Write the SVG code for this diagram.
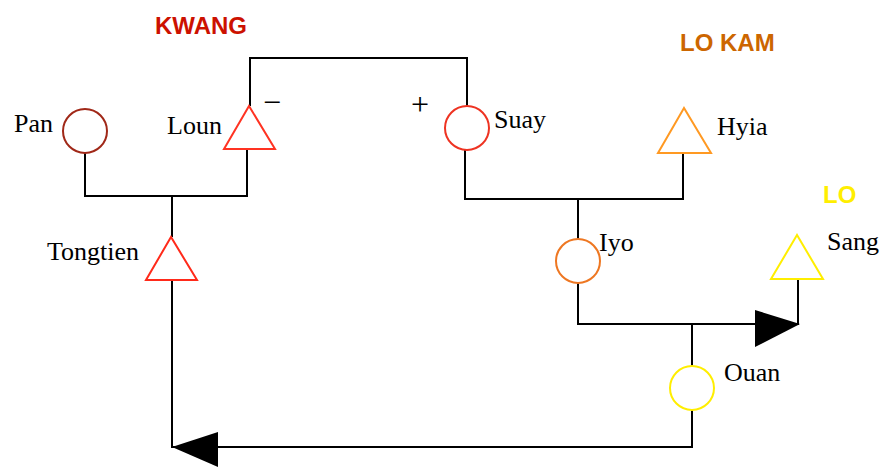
<svg xmlns="http://www.w3.org/2000/svg" width="886" height="468" viewBox="0 0 886 468">
<style>
.ln{fill:none;stroke:#000;stroke-width:2}
.sh{fill:#fff;stroke-width:2}
.nm{font-family:"Liberation Serif","Times New Roman",serif;font-size:26px;fill:#000}
.grp{font-family:"Liberation Sans",Arial,sans-serif;font-size:24px;font-weight:bold}
.sg{font-family:"Liberation Serif","Times New Roman",serif;font-size:32px;fill:#000}
</style>
<rect width="886" height="468" fill="#fff"/>
<g id="connectors">
<polyline class="ln" points="85,153 85,196 247,196 247,149"/>
<polyline class="ln" points="250,106 250,58 467,58 467,106"/>
<polyline class="ln" points="465,150 465,199 683,199 683,153"/>
<line class="ln" x1="172" y1="196" x2="172" y2="237"/>
<polyline class="ln" points="172,280 172,447 692,447 692,410"/>
<line class="ln" x1="578" y1="199" x2="578" y2="239"/>
<polyline class="ln" points="578,283 578,324 798,324 798,279"/>
<line class="ln" x1="692" y1="324" x2="692" y2="366"/>
<polygon points="800,324 755,310 755,347" fill="#000"/>
<polygon points="172,447 218,432 218,467" fill="#000"/>
</g>
<g id="label-kwang"><text class="grp" x="155" y="34" fill="#cc1100">KWANG</text></g>
<g id="label-lokam"><text class="grp" x="680" y="51" fill="#cc6600">LO KAM</text></g>
<g id="label-lo"><text class="grp" x="823" y="203" fill="#ffee00">LO</text></g>
<g id="sign-minus"><text class="sg" x="263" y="113">−</text></g>
<g id="sign-plus"><text class="sg" x="411" y="115">+</text></g>
<g id="pan"><circle class="sh" cx="85" cy="131" r="22" stroke="#a02818"/><text class="nm" x="14" y="132">Pan</text></g>
<g id="loun"><polygon class="sh" points="249,106 224,149 275,149" stroke="#ff3322"/><text class="nm" x="167" y="134">Loun</text></g>
<g id="suay"><circle class="sh" cx="467" cy="128" r="22" stroke="#ee3322"/><text class="nm" x="494" y="128">Suay</text></g>
<g id="hyia"><polygon class="sh" points="684,108 658,153 711,153" stroke="#ff9922"/><text class="nm" x="717" y="135">Hyia</text></g>
<g id="tongtien"><polygon class="sh" points="171,237 146,280 197,280" stroke="#ff2a1a"/><text class="nm" x="47" y="260">Tongtien</text></g>
<g id="iyo"><circle class="sh" cx="578" cy="261" r="22" stroke="#ee7722"/><text class="nm" x="599" y="251">Iyo</text></g>
<g id="sang"><polygon class="sh" points="797,235 771,279 823,279" stroke="#ffee00"/><text class="nm" x="827" y="250">Sang</text></g>
<g id="ouan"><circle class="sh" cx="692" cy="388" r="22" stroke="#ffee00"/><text class="nm" x="724" y="381">Ouan</text></g>
</svg>
